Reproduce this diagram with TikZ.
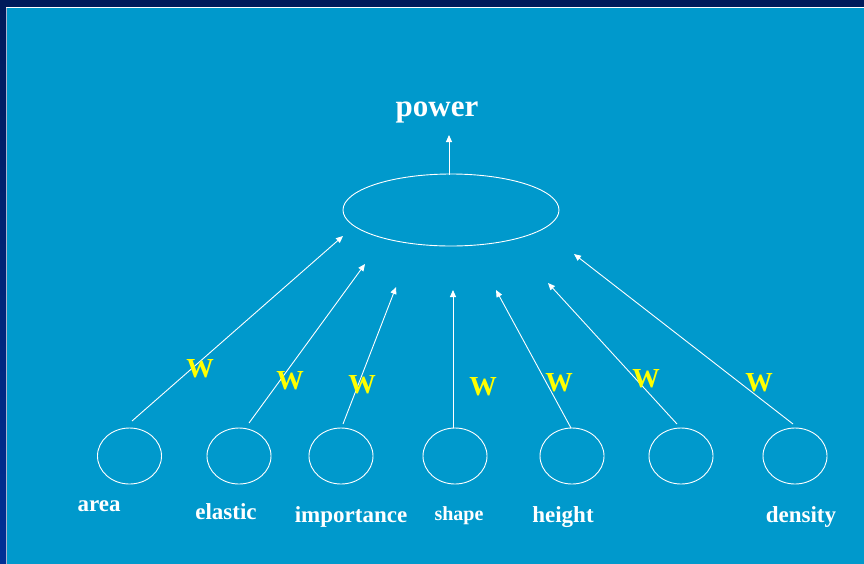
\documentclass[tikz,border=0pt]{standalone}
\usepackage{fontspec}
\setmainfont{Liberation Serif}
\usetikzlibrary{shapes.geometric,arrows.meta}
\definecolor{navytop}{RGB}{0,26,90}
\definecolor{navybot}{RGB}{0,48,150}
\definecolor{panel}{RGB}{0,153,204}
\definecolor{wyellow}{RGB}{255,255,0}
\definecolor{edgegray}{RGB}{170,180,210}
\tikzset{
  unit/.style={draw=white, line width=0.9pt, ellipse, inner sep=0pt,
    minimum width=64pt, minimum height=56pt},
  outunit/.style={unit, minimum width=216pt, minimum height=72pt},
  link/.style={draw=white, line width=0.9pt, -{Triangle[length=7pt,width=6pt]}},
  lbl/.style={text=white, anchor=base, inner sep=0pt,
    font=\fontsize{23}{23}\selectfont\bfseries},
  wt/.style={text=wyellow, anchor=base, inner sep=0pt,
    font=\fontsize{27.5}{27.5}\selectfont\bfseries},
}
\begin{document}
\begin{tikzpicture}[x=1pt,y=-1pt]
\useasboundingbox (0,0) rectangle (864,563);
% slide frame and panel
\shade[top color=navytop, bottom color=navybot] (0,0) rectangle (864,563);
\fill[navytop] (0,0) rectangle (864,7);
\fill[panel] (7,7) rectangle (870,570);
\draw[edgegray, line width=1.2pt] (6.6,7) -- (6.6,570);
\draw[white, line width=1pt] (6,7) -- (870,7);

% output unit
\node[outunit] (out) at (451,210) {};
\node[lbl, font=\fontsize{31}{31}\selectfont\bfseries] (power) at (437,116) {power};
\coordinate (otail) at (449,174.5);
\coordinate (ohead) at (449,135);
\draw[link] (otail) -- (ohead);

% input units
\node[unit] (u1) at (129.5,456) {};
\node[unit] (u2) at (239,456) {};
\node[unit] (u3) at (341,456) {};
\node[unit] (u4) at (455,456) {};
\node[unit] (u5) at (572,456) {};
\node[unit] (u6) at (681,456) {};
\node[unit] (u7) at (795,456) {};

% input labels
\node[lbl] (l1) at (99,511) {area};
\node[lbl] (l2) at (226,519) {elastic};
\node[lbl] (l3) at (351,522) {importance};
\node[lbl, font=\fontsize{20}{20}\selectfont\bfseries] (l4) at (459,520) {shape};
\node[lbl] (l5) at (563,522) {height};
\node[lbl] (l6) at (801,522) {density};

% weighted connections
\coordinate (s1) at (132,421);   \coordinate (e1) at (343,236);
\coordinate (s2) at (249,423);   \coordinate (e2) at (365,264);
\coordinate (s3) at (343,424);   \coordinate (e3) at (396,287);
\coordinate (s4) at (453,428);   \coordinate (e4) at (453,290);
\coordinate (s5) at (571,428);   \coordinate (e5) at (496,290);
\coordinate (s6) at (677,424);   \coordinate (e6) at (548,283);
\coordinate (s7) at (793,424);   \coordinate (e7) at (574,254);
\foreach \i in {1,...,7} {\draw[link] (s\i) -- (e\i);}

% weights
\node[wt] (w1) at (200,377) {W};
\node[wt] (w2) at (290,389) {W};
\node[wt] (w3) at (362,393) {W};
\node[wt] (w4) at (483,395) {W};
\node[wt] (w5) at (559,391) {W};
\node[wt] (w6) at (646,387) {W};
\node[wt] (w7) at (759,391) {W};
\end{tikzpicture}
\end{document}
